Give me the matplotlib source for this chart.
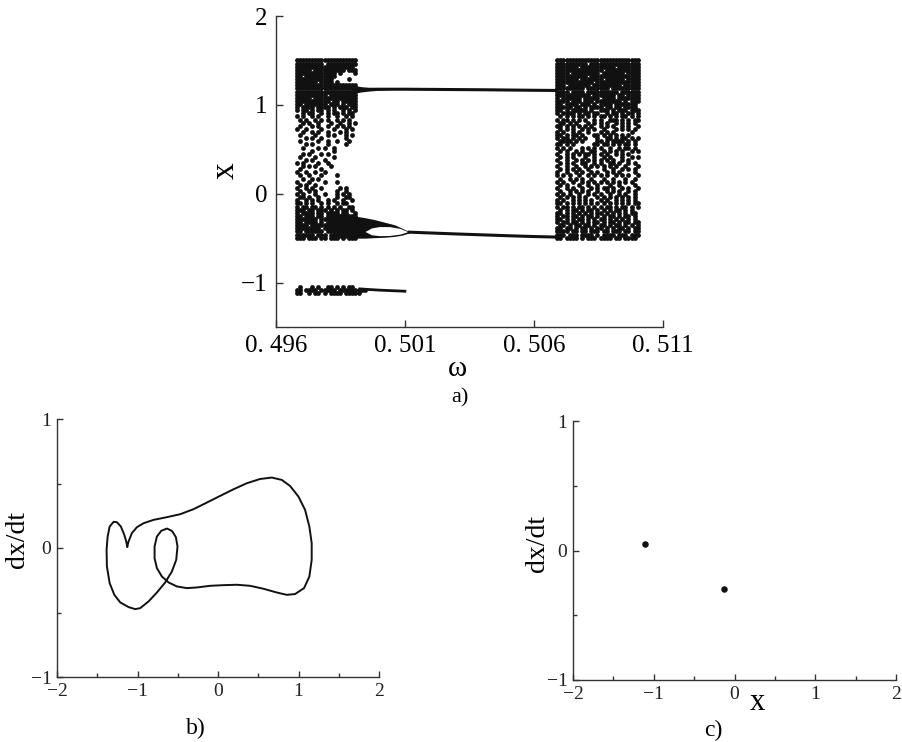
import numpy as np
import matplotlib
matplotlib.use("Agg")
import matplotlib.pyplot as plt
from matplotlib.ticker import MultipleLocator, FixedLocator

plt.rcParams['font.family'] = ['Liberation Serif', 'DejaVu Serif']
plt.rcParams['mathtext.fontset'] = 'stix'

# ---------------- data: panel a) bifurcation diagram ----------------
omega_ticks = [0.496, 0.501, 0.506, 0.511]
omega_tick_labels = ["0. 496", "0. 501", "0. 506", "0. 511"]
x_ticks_a = [-1, 0, 1, 2]

# chaotic cloud, left window: occupancy
# rows go from x = 1.50 downwards in steps of 0.035, columns from omega = 0.4968 in steps of 0.00012
left_w0, left_dw, left_x0, left_dx = 0.4968, 0.00012, 1.50, 0.035
left_cloud_rows = [
    "####################",
    "#########.##########",
    "###################.",
    "#####.##########.###",
    "#############.#....#",
    "##.##########.......",
    "############.....#..",
    "#######.####.#......",
    "####################",
    "####################",
    "####################",
    "##########.#########",
    "#####.##############",
    "###########.##.#####",
    "##.#######.###.#.###",
    "#.####.####.#.###.##",
    "#.##.#.##.#.#..#.#.#",
    "..#.##..#.#.##.#.##.",
    "#.#..#.#..#..#..#.#.",
    ".#.#..#.#.#..#.#.#..",
    "..#.#..#...#..#..#.#",
    ".#...#.#..#..#.#.#..",
    "#..#....#...#...#.#.",
    "..#..#.#..#...#.#...",
    ".#....#...#.#...#.#.",
    "...#.#..#.......#...",
    ".#.....#..#..#...#..",
    "...#.#....#.....#...",
    "..#....#.#..#.......",
    ".....#......#.......",
    "..#.#...#.#.........",
    ".#....#.....#.......",
    "...#.#...#..........",
    "#.#....#..#.........",
    "..#.#.#....#........",
    ".#......#...........",
    "#..#..#..#..........",
    ".#..#...#....#......",
    "..#..#.#............",
    "#...#....#...#......",
    ".#.#..#.............",
    "#..#.#..#.....#.#...",
    ".#..#.#......#..#...",
    "#.#...#..#...#.#.#..",
    ".##.#..#.....#..##..",
    "#..#.#.#..#.#..#..#.",
    "##.#.#..#.#..#.##...",
    "#.##.##.#.#.#.#..##.",
    "###.##.###.#.#.##.#.",
    "#.####.##.####.##..#",
    "##.###.##.##.#######",
    "#######.############",
    "##.####.#.##########",
    "####.########.######",
    "########.#####.#####",
    "##.######.##########",
    "######.###.#########",
    "###.###.##.###.#.###",
]

# chaotic cloud, right window
right_w0, right_dw, right_x0, right_dx = 0.5069, 0.00012, 1.50, 0.035
right_cloud_rows = [
    "###########################",
    "##########.################",
    "#######.###########.#######",
    "###############.###########",
    "####.#########.#######.####",
    "##########.################",
    "#######.#######.######.####",
    "############.##############",
    "###.#######.#########.#####",
    "#########.#######.#########",
    "####.####.##########.######",
    "###########.#######.##.####",
    "#.######.#####.####.#######",
    "####.###.###.########.#.###",
    "##.####.###.#.####.#######.",
    "#####.##.#.####.##.##.####.",
    "##.#.#####.#..###.#.###.###",
    "#.####.#.##.##..#.##.#.##.#",
    ".#.#.#.##.#.#.##.#.#.##.#.#",
    "#.##.#.#.#..#.#..###.#.#.##",
    ".##.#.#...#.#.#.#..#.#.#.#.",
    "##.#.#.#.#.#..#.#.#..#.#..#",
    ".#.#.#..#.#.#..#...#.#.#.#.",
    "#.#..#.#..#...#.#.#.....#..",
    "##.#.##.#...##.#.#.#.#.#...",
    "#.##.#.#.#...#..##.#.##.#.#",
    ".####.#.#....##.#.####.#.#.",
    "##.#.#......##.##.#.#.##.#.",
    "#.#.#...#.#.#.#..#..#.##.#.",
    ".#.#..#.#..##..#.#.#.#..#.#",
    "#..#.#.#.##.#.#.#..#.#.#...",
    ".#.#.#...#..#..#.#...#..#.#",
    "#..#..#.#.#.#.#.#.#..#.#...",
    ".#.#.#..##..#.#..##.#..#.#.",
    "#..#..#..#.#.#.#.#.#..#...#",
    ".#.#.#.#..#....#..#..#.#.#.",
    "#..#..#.#..#.#..#.#.#....#.",
    "#.#.#..#..#.#.#.#..#.#.#..#",
    ".#..#.#.#..#...#..#...#..#.",
    "#.#..#..#.#.#.#.#.#.#.#.#..",
    ".#.#...#..#..#...#..#....#.",
    "#..#.#..#..#.#.##.#..#.#..#",
    ".#..#.#.#.#..#..#.#.#..#.#.",
    "#.#.#..#..#.#.#..#..#.#..#.",
    ".#.#.#.#.#...#.#.#.#.#.#.#.",
    "#.#..#.#.#.#..#.#..#.#.#.#.",
    "##.#.#.#.#.#.#.#.#.#.#.#.##",
    "#.##.#.##.#.#.#.##.#.##.#.#",
    ".#.#.##.#.##.#.#.#.##.#.#..",
    "##.#.#.#.#.#.##.#.#.#.#.##.",
    "#.##.##.#.##.#.#.##.#.##.#.",
    "##.#.#.##.#.#.##.#.#.#.#.#.",
    "#.##.##.#.#.##.#.##.#.##.##",
    ".##.#.##.##.#.##.#.##.#.#.#",
    "##.##.#.##.#.##.#.#.##.#.##",
    "####.##.##.###.##.###.##.##",
    "###.###.####.#.####.###.###",
    "##.####.#.###.####.##.####.",
]

# lowest band near x = -1.08
bottom_w0, bottom_dw, bottom_x0, bottom_dx = 0.4968, 0.00012, -1.045, 0.035
bottom_cloud_rows = [
    ".#...#.#..##.#.#.##....",
    "##.####.#####.#########",
    "##..#.##.#.####.#####..",
]
bottom_line_w = [0.4992, 0.4996, 0.5000, 0.5004, 0.50105]
bottom_line_x = [-1.070, -1.078, -1.085, -1.090, -1.098]

# upper period-1 branch
upper_w = [0.4990, 0.4995, 0.5000, 0.5010, 0.5020, 0.5030, 0.5040, 0.5050, 0.5060, 0.5069]
upper_x = [1.170, 1.175, 1.176, 1.176, 1.174, 1.172, 1.170, 1.167, 1.164, 1.162]
wedge_w = [0.4990, 0.4993, 0.4996, 0.5000, 0.5004]
wedge_hi = [1.22, 1.205, 1.195, 1.186, 1.180]
wedge_lo = [1.13, 1.145, 1.155, 1.165, 1.171]

# lower branch: bubble then single line
bubble_w = [0.4982, 0.4988, 0.49945, 0.4998, 0.5002, 0.5006, 0.5009, 0.50118]
bubble_top = [-0.22, -0.24, -0.27, -0.29, -0.32, -0.35, -0.39, -0.43]
bubble_bot = [-0.50, -0.50, -0.50, -0.495, -0.49, -0.48, -0.465, -0.44]
hole_w = [0.49945, 0.4997, 0.5000, 0.5004, 0.5008, 0.5011]
hole_top = [-0.425, -0.385, -0.370, -0.370, -0.390, -0.425]
hole_bot = [-0.425, -0.462, -0.472, -0.470, -0.455, -0.428]
lower_w = [0.5011, 0.5020, 0.5030, 0.5040, 0.5050, 0.5060, 0.5069]
lower_x = [-0.432, -0.442, -0.453, -0.463, -0.473, -0.482, -0.488]

# ---------------- data: panel b) phase portrait ----------------
orbit_x = [-1.127, -1.111, -1.070, -1.008, -0.925, -0.801, -0.635, -0.469, -0.304, -0.139,
           0.027, 0.192, 0.358, 0.523, 0.668, 0.792, 0.895, 0.999, 1.082, 1.135,
           1.164, 1.164, 1.135, 1.069, 0.957, 0.854, 0.730, 0.565, 0.399, 0.234,
           0.068, -0.097, -0.263, -0.387, -0.511, -0.614, -0.697, -0.759, -0.788, -0.788,
           -0.759, -0.705, -0.635, -0.573, -0.523, -0.503, -0.519, -0.573, -0.656, -0.759,
           -0.862, -0.966, -1.028, -1.111, -1.214, -1.288, -1.346, -1.380, -1.384, -1.371,
           -1.346, -1.297, -1.255, -1.206, -1.164, -1.140, -1.127]
orbit_v = [0.012, 0.050, 0.115, 0.161, 0.192, 0.218, 0.239, 0.262, 0.301, 0.352,
           0.404, 0.455, 0.502, 0.535, 0.546, 0.528, 0.481, 0.399, 0.295, 0.166,
           0.037, -0.092, -0.221, -0.311, -0.357, -0.363, -0.345, -0.316, -0.293, -0.285,
           -0.288, -0.293, -0.306, -0.311, -0.298, -0.267, -0.221, -0.156, -0.079, 0.012,
           0.089, 0.133, 0.151, 0.133, 0.084, 0.012, -0.092, -0.182, -0.267, -0.345,
           -0.414, -0.466, -0.474, -0.458, -0.422, -0.363, -0.272, -0.143, -0.014, 0.089,
           0.166, 0.203, 0.200, 0.166, 0.102, 0.050, 0.012]

# ---------------- data: panel c) Poincare section ----------------
poincare_x = [-1.114, -0.136]
poincare_v = [0.051, -0.298]

phase_ticks = [-2, -1, 0, 1, 2]
phase_vticks = [-1, 0, 1]


def grid_points(rows, w0, dw, x0, dx):
    ws, xs = [], []
    for i, row in enumerate(rows):
        for j, ch in enumerate(row):
            if ch == '#':
                ws.append(w0 + j * dw)
                xs.append(x0 - i * dx)
    return ws, xs


INK = '#111111'
SPINE = '#333333'

fig = plt.figure(figsize=(9.03, 7.42), dpi=100)

# ---------------- panel a ----------------
axa = fig.add_axes([276 / 903, 1 - 327 / 742, (663 - 276) / 903, (327 - 16) / 742])
for rows, w0, dw, x0, dx in [
    (left_cloud_rows, left_w0, left_dw, left_x0, left_dx),
    (right_cloud_rows, right_w0, right_dw, right_x0, right_dx),
    (bottom_cloud_rows, bottom_w0, bottom_dw, bottom_x0, bottom_dx),
]:
    ws, xs = grid_points(rows, w0, dw, x0, dx)
    axa.scatter(ws, xs, s=12, c=INK, marker='o', linewidths=0)

axa.plot(upper_w, upper_x, color=INK, lw=2.2, solid_capstyle='butt')
axa.fill_between(wedge_w, wedge_lo, wedge_hi, color=INK, lw=0)
axa.fill_between(bubble_w, bubble_bot, bubble_top, color=INK, lw=0)
axa.fill_between(hole_w, hole_bot, hole_top, color='white', lw=0)
axa.plot(lower_w, lower_x, color=INK, lw=2.2, solid_capstyle='butt')
axa.plot(bottom_line_w, bottom_line_x, color=INK, lw=2.0, solid_capstyle='butt')

axa.set_xlim(0.496, 0.511)
axa.set_ylim(-1.5, 2)
axa.set_xticks(omega_ticks)
axa.set_xticklabels(omega_tick_labels)
axa.set_yticks(x_ticks_a)
axa.set_yticklabels(["\u22121", "0", "1", "2"])
axa.tick_params(direction='in', length=5, width=1, color=SPINE, labelsize=18, pad=6)
for s in ['top', 'right']:
    axa.spines[s].set_visible(False)
for s in ['left', 'bottom']:
    axa.spines[s].set_color(SPINE)
    axa.spines[s].set_linewidth(1.0)

fig.text(225 / 903, 1 - 171 / 742, "x", fontsize=24, rotation=90, ha='center', va='center')
fig.text(457 / 903, 1 - 369 / 742, "\u03c9", fontsize=21, ha='center', va='center')
fig.text(460 / 903, 1 - 398 / 742, "a)", fontsize=16, ha='center', va='center')


def style_phase(ax):
    ax.set_xlim(-2, 2)
    ax.set_ylim(-1, 1)
    ax.xaxis.set_major_locator(FixedLocator(phase_ticks))
    ax.yaxis.set_major_locator(FixedLocator(phase_vticks))
    ax.xaxis.set_minor_locator(MultipleLocator(0.5))
    ax.yaxis.set_minor_locator(MultipleLocator(0.5))
    ax.set_xticklabels(["\u22122", "\u22121", "0", "1", "2"])
    ax.set_yticklabels(["\u22121", "0", "1"])
    ax.tick_params(which='both', direction='in', color=SPINE, width=1)
    ax.tick_params(which='major', length=4, labelsize=14, pad=4, labelcolor='#222222')
    ax.tick_params(which='minor', length=3)
    for s in ['top', 'right']:
        ax.spines[s].set_visible(False)
    for s in ['left', 'bottom']:
        ax.spines[s].set_color(SPINE)
        ax.spines[s].set_linewidth(1.0)


# ---------------- panel b ----------------
axb = fig.add_axes([57 / 903, 1 - 677 / 742, (379 - 57) / 903, (677 - 419) / 742])
axb.plot(orbit_x, orbit_v, color=INK, lw=1.4)
style_phase(axb)
fig.text(18 / 903, 1 - 540 / 742, "dx/dt", fontsize=20, rotation=90, ha='center', va='center')
fig.text(196 / 903, 1 - 728 / 742, "b)", fontsize=17, ha='center', va='center')

# ---------------- panel c ----------------
axc = fig.add_axes([573 / 903, 1 - 680 / 742, (896 - 573) / 903, (680 - 421) / 742])
axc.scatter(poincare_x, poincare_v, s=22, c=INK, linewidths=0)
style_phase(axc)
fig.text(538 / 903, 1 - 543 / 742, "dx/dt", fontsize=20, rotation=90, ha='center', va='center')
fig.text(757 / 903, 1 - 702 / 742, "x", fontsize=22, ha='center', va='center')
fig.text(713 / 903, 1 - 730 / 742, "c)", fontsize=17, ha='center', va='center')

fig.savefig("out.png", dpi=100, facecolor='white')
